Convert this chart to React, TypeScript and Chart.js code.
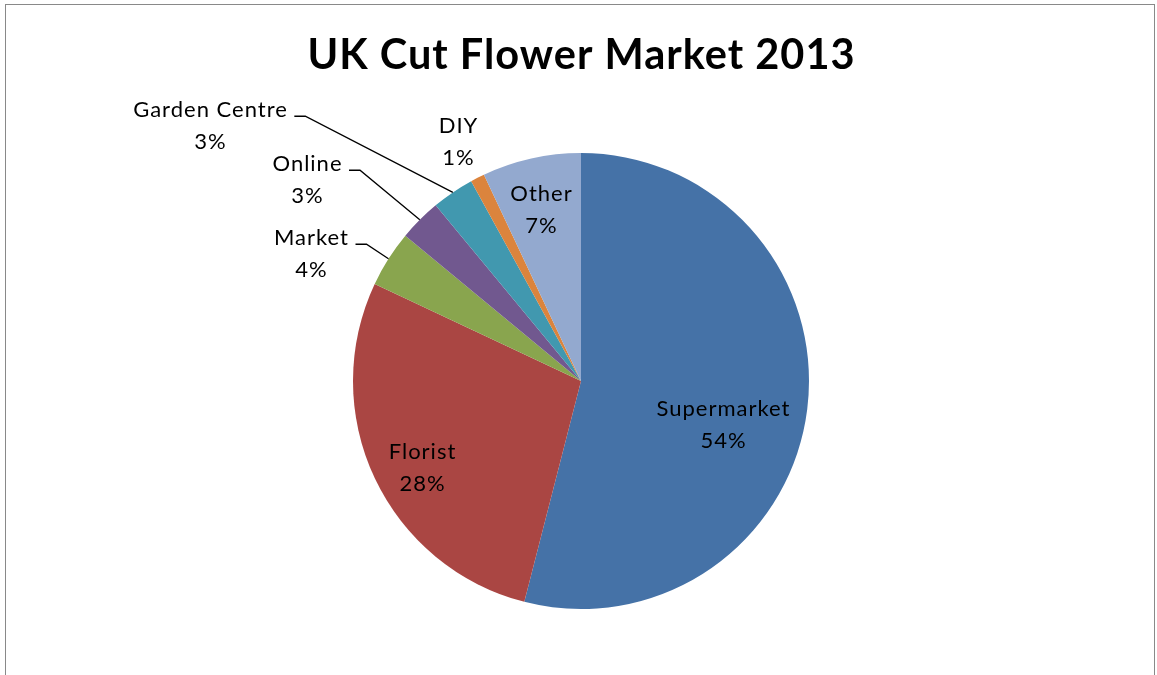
import React, { useEffect, useRef } from "react";
import { Chart, registerables } from "chart.js";

Chart.register(...registerables);

const categories = ["Supermarket", "Florist", "Market", "Online", "Garden Centre", "DIY", "Other"];
const shares = [54, 28, 4, 3, 3, 1, 7];
const sliceColors = ["#4572A7", "#AA4643", "#89A54E", "#71588F", "#4198AF", "#DB843D", "#93A9CF"];
const chartTitle = "UK Cut Flower Market 2013";

// label placement relative to pie centre (in px), and whether a leader line is drawn
const labelPlacement: { dx: number; dy: number; leader: boolean }[] = [
  { dx: 142, dy: 44, leader: false },
  { dx: -159, dy: 87, leader: false },
  { dx: -270, dy: -127, leader: true },
  { dx: -274, dy: -201, leader: true },
  { dx: -371, dy: -255, leader: true },
  { dx: -123, dy: -239, leader: false },
  { dx: -40, dy: -171, leader: false },
];

const FONT = "Lato, 'Open Sans', sans-serif";

const labelPlugin = {
  id: "pieLabels",
  afterDraw(chart: any) {
    const ctx = chart.ctx;
    const meta = chart.getDatasetMeta(0);
    const total = shares.reduce((a, b) => a + b, 0);
    ctx.save();
    // title
    ctx.fillStyle = "#000";
    ctx.font = `bold 41.5px ${FONT}`;
    ctx.textAlign = "center";
    ctx.textBaseline = "middle";
    (ctx as any).letterSpacing = "1px";
    const ca = chart.chartArea;
    const cx0 = (ca.left + ca.right) / 2;
    ctx.fillText(chartTitle, cx0 + 0.5, 56);

    ctx.font = `22px ${FONT}`;
    (ctx as any).letterSpacing = "1px";
    const lineGap = 31.5;
    meta.data.forEach((arc: any, i: number) => {
      const p = arc.getProps(["x", "y", "startAngle", "endAngle", "outerRadius"], true);
      const pl = labelPlacement[i];
      const lx = p.x + pl.dx;
      const ly = p.y + pl.dy;
      const name = categories[i];
      const pct = Math.round((shares[i] / total) * 100) + "%";
      ctx.fillStyle = "#000";
      ctx.fillText(name, lx + 0.5, ly - lineGap / 2);
      ctx.fillText(pct, lx + 0.5, ly + lineGap / 2);
      if (pl.leader) {
        const w = ctx.measureText(name).width;
        const sx = lx + w / 2 + 7;
        const sy = ly - lineGap / 2 + 6;
        const mid = (p.startAngle + p.endAngle) / 2;
        const ex = p.x + Math.cos(mid) * p.outerRadius;
        const ey = p.y + Math.sin(mid) * p.outerRadius;
        ctx.strokeStyle = "#000";
        ctx.lineWidth = 1.3;
        ctx.beginPath();
        ctx.moveTo(sx, sy);
        ctx.lineTo(sx + 11, sy);
        ctx.lineTo(ex, ey);
        ctx.stroke();
      }
    });
    ctx.restore();
  },
};

export default function App() {
  const ref = useRef<HTMLCanvasElement>(null);
  useEffect(() => {
    if (!ref.current) return;
    const chart = new Chart(ref.current, {
      type: "pie",
      data: {
        labels: categories,
        datasets: [
          {
            data: shares,
            backgroundColor: sliceColors,
            borderWidth: 0,
          },
        ],
      },
      options: {
        animation: false,
        responsive: false,
        maintainAspectRatio: false,
        rotation: 0,
        layout: { padding: { top: 153, bottom: 66, left: 353, right: 348 } },
        plugins: {
          legend: { display: false },
          title: { display: false },
          tooltip: { enabled: false },
        },
      },
      plugins: [labelPlugin],
    });
    return () => chart.destroy();
  }, []);
  return (
    <div style={{ position: "fixed", left: 0, top: 0, width: 1157, height: 675, background: "#fff", overflow: "hidden" }}>
      <div
        style={{
          position: "absolute",
          left: 5,
          top: 4,
          width: 1150,
          height: 720,
          border: "1px solid #898989",
          boxSizing: "border-box",
        }}
      />
      <canvas ref={ref} width={1157} height={675} style={{ position: "absolute", left: 0, top: 0, width: 1157, height: 675 }} />
    </div>
  );
}
